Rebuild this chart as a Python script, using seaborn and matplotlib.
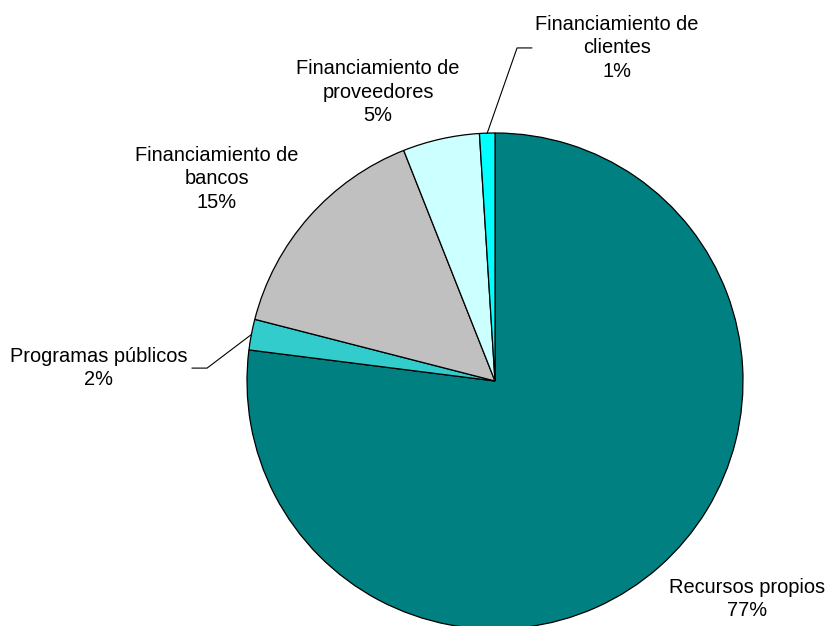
import numpy as np
import matplotlib
matplotlib.use("Agg")
import matplotlib.pyplot as plt
import seaborn as sns

# ---------- data ----------
categories = [
    "Recursos propios",
    "Programas públicos",
    "Financiamiento de\nbancos",
    "Financiamiento de\nproveedores",
    "Financiamiento de\nclientes",
]
shares = [77, 2, 15, 5, 1]
colors = ["#008080", "#33CCCC", "#C0C0C0", "#CCFFFF", "#00FFFF"]

# label centres (data units, pie radius = 1, centre at 0,0)
label_pos = [(1.016, -0.879), (-1.597, 0.052), (-1.121, 0.815), (-0.472, 1.165), (0.492, 1.343)]
# leader lines: (elbow, end) or None
leaders = [None, ((-1.161, 0.052), (-1.222, 0.052)), None, None, ((0.089, 1.343), (0.149, 1.343))]

# ---------- style ----------
sns.set_style("white")
plt.rcParams["font.family"] = ["Liberation Sans", "DejaVu Sans"]

fig = plt.figure(figsize=(8.27, 6.26), dpi=100)
ax = fig.add_axes([0, 0, 1, 1])

wedges, _ = ax.pie(
    shares,
    colors=colors,
    startangle=90,
    counterclock=False,
    radius=1.0,
    wedgeprops=dict(edgecolor="black", linewidth=0.9),
)

total = sum(shares)
for w, cat, val, (lx, ly), lead in zip(wedges, categories, shares, label_pos, leaders):
    ax.text(lx, ly, f"{cat}\n{val / total:.0%}", ha="center", va="center",
            fontsize=14.4, color="black", linespacing=1.3)
    if lead is not None:
        mid = np.deg2rad((w.theta1 + w.theta2) / 2)
        x0, y0 = np.cos(mid), np.sin(mid)
        (ex, ey), (tx, ty) = lead
        ax.plot([x0, ex, tx], [y0, ey, ty], color="black", linewidth=0.8)

# map data units to pixels: centre at (495, 381), radius 248 px
ax.set_xlim(-495 / 248, (827 - 495) / 248)
ax.set_ylim(-(626 - 381) / 248, 381 / 248)
ax.set_aspect("equal")
ax.axis("off")

fig.savefig("out.png", dpi=100, facecolor="white")
